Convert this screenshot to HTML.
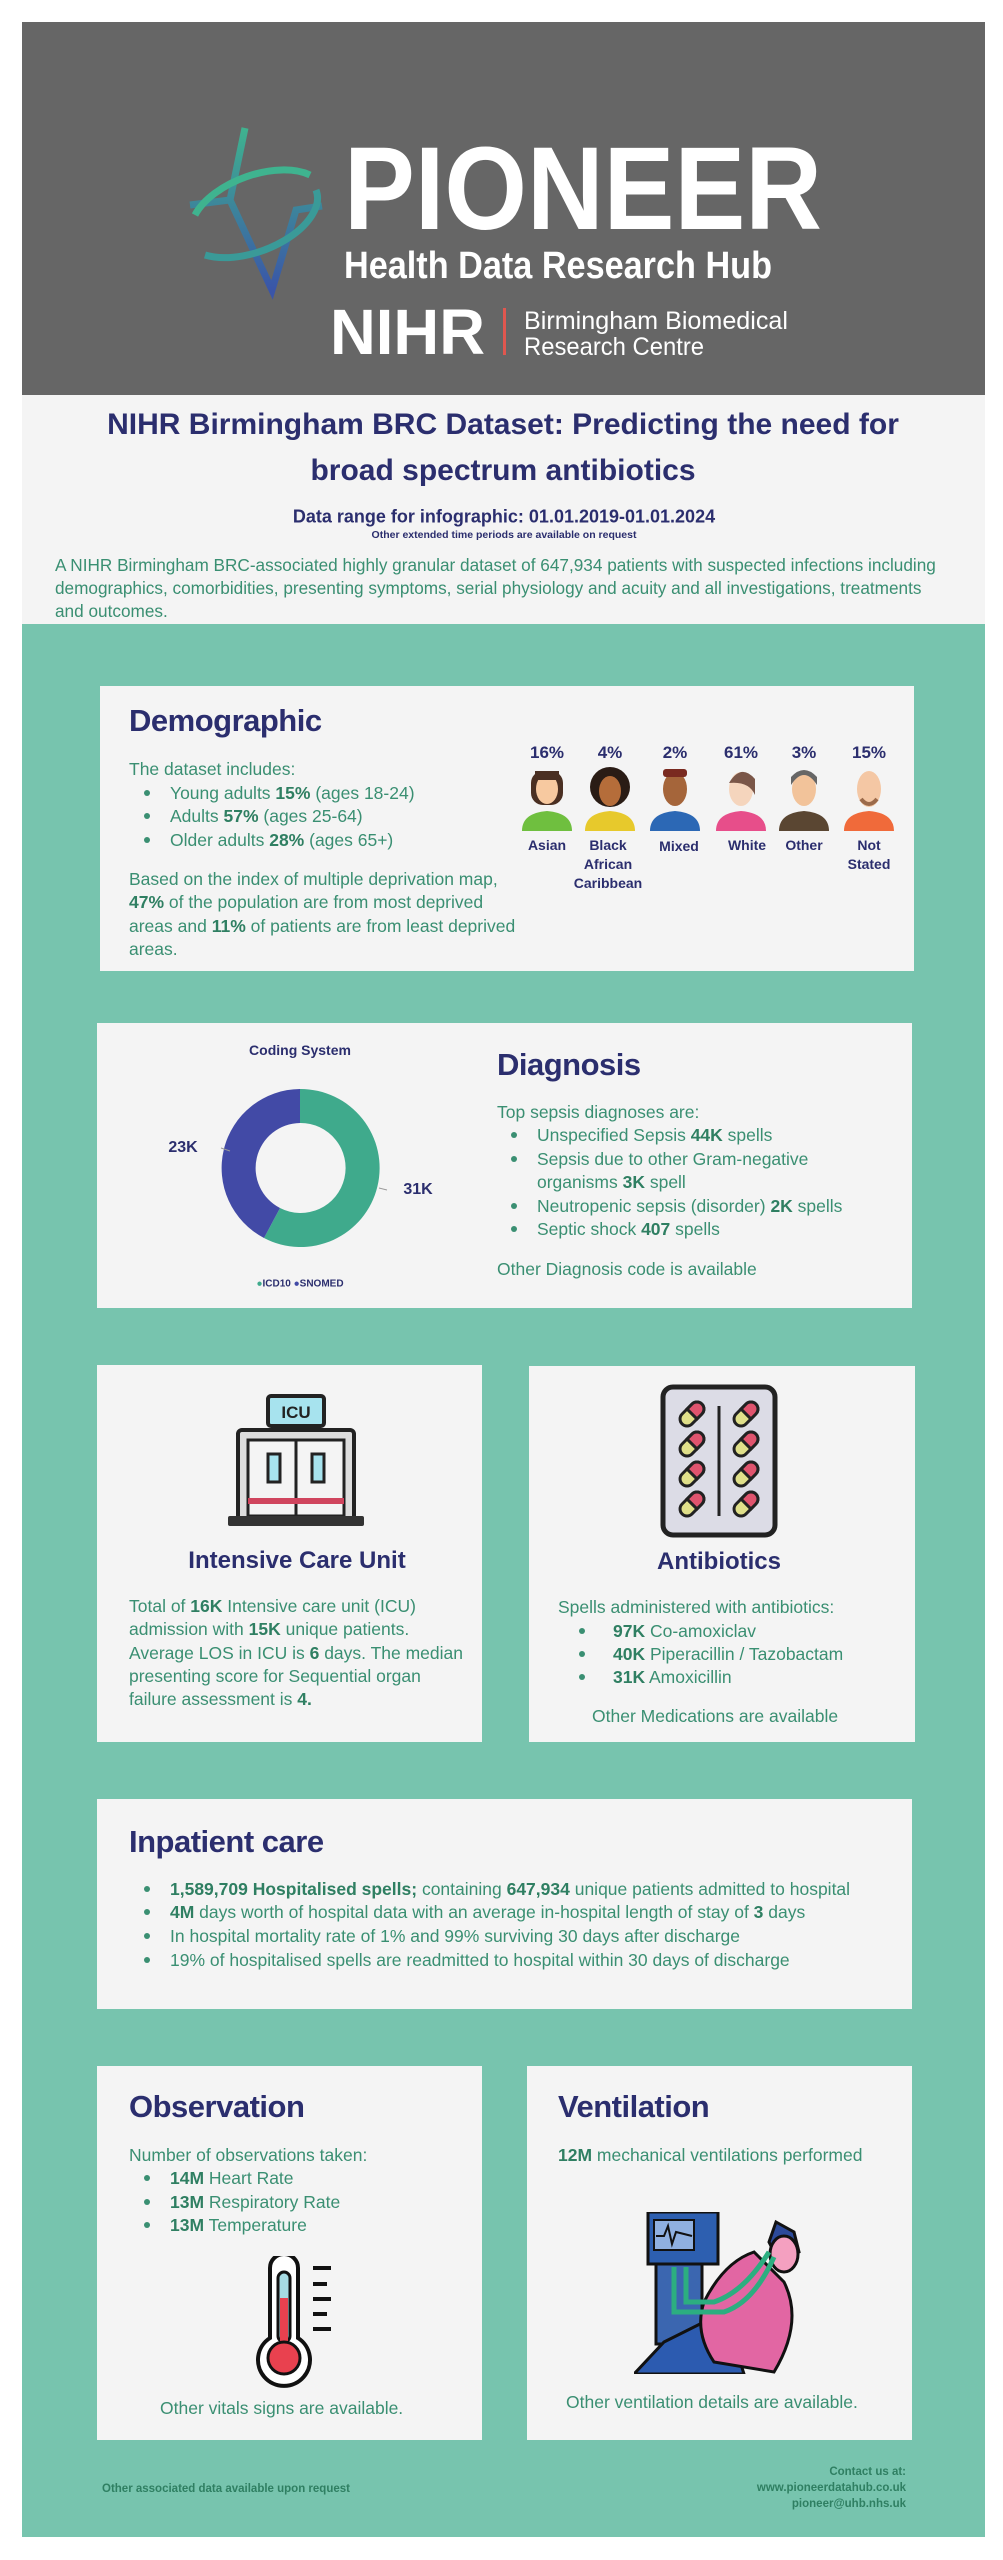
<!DOCTYPE html>
<html><head><meta charset="utf-8"><style>
*{margin:0;padding:0;box-sizing:border-box}
body{width:1003px;height:2560px;background:#fff;position:relative;font-family:"Liberation Sans",sans-serif;overflow:hidden}
.a{position:absolute}
.card{position:absolute;background:#f4f4f4}
.h{position:absolute;color:#2b2e6e;font-weight:bold;font-size:31px;line-height:36px;transform:translateY(-18px);letter-spacing:-0.5px}
.t{position:absolute;color:#3a8f72;font-size:17.5px;line-height:22px;white-space:nowrap;transform:translateY(-11px)}
.t b{color:#2f7f62}
.dot{position:absolute;width:6px;height:6px;border-radius:50%;background:#3a8f72;transform:translate(-3px,-3px)}
.n{position:absolute;color:#2b2e6e;font-weight:bold;text-align:center;white-space:nowrap;transform:translate(-50%,-50%)}
</style></head><body>
<div class="a" style="left:22px;top:22px;width:963px;height:373px;background:#666"></div>
<div class="a" style="left:22px;top:395px;width:963px;height:229px;background:#f4f4f4"></div>
<div class="a" style="left:22px;top:624px;width:963px;height:1913px;background:#77c4ae"></div>

<svg class="a" style="left:0;top:0" width="1003" height="400">
<defs><linearGradient id="g" x1="0" y1="0" x2="0" y2="1"><stop offset="0" stop-color="#3fb38f"/><stop offset="1" stop-color="#3a55a8"/></linearGradient></defs>
<g fill="none" stroke="url(#g)" stroke-width="7">
<path d="M245 128 L230 200 L190 205 M230 200 L272 290 L296 210 L322 206"/>
<path d="M195 215 A70 38 -20 0 1 310 175" stroke="#3fb38f"/>
<path d="M316 190 A70 38 -20 0 1 205 255" stroke="#3a9a98"/>
</g>
<text x="344" y="229" fill="#fff" font-size="118" font-weight="bold" textLength="478" lengthAdjust="spacingAndGlyphs">PIONEER</text>
<text x="344" y="278" fill="#fff" font-size="38" font-weight="bold" textLength="428" lengthAdjust="spacingAndGlyphs">Health Data Research Hub</text>
<text x="330" y="354" fill="#fff" font-size="64" font-weight="bold" textLength="155" lengthAdjust="spacingAndGlyphs">NIHR</text>
<rect x="503" y="308" width="3" height="47" fill="#e0574f"/>
<text x="524" y="329" fill="#fff" font-size="25" textLength="264" lengthAdjust="spacingAndGlyphs">Birmingham Biomedical</text>
<text x="524" y="355" fill="#fff" font-size="25" textLength="180" lengthAdjust="spacingAndGlyphs">Research Centre</text>
</svg>

<div class="n" style="left:503px;top:425px;font-size:30px">NIHR Birmingham BRC Dataset: Predicting the need for</div>
<div class="n" style="left:503px;top:471px;font-size:30px">broad spectrum antibiotics</div>
<div class="n" style="left:504px;top:517px;font-size:18px">Data range for infographic: 01.01.2019-01.01.2024</div>
<div class="n" style="left:504px;top:535px;font-size:10.5px">Other extended time periods are available on request</div>
<div class="t" style="left:55px;top:565px;font-size:17.2px">A NIHR Birmingham BRC-associated highly granular dataset of 647,934 patients with suspected infections including</div>
<div class="t" style="left:55px;top:588px;font-size:17.2px">demographics, comorbidities, presenting symptoms, serial physiology and acuity and all investigations, treatments</div>
<div class="t" style="left:55px;top:611px;font-size:17.2px">and outcomes.</div>

<!-- Demographic -->
<div class="card" style="left:100px;top:686px;width:814px;height:285px"></div>
<div class="h" style="left:129px;top:721px">Demographic</div>
<div class="t" style="left:129px;top:769px">The dataset includes:</div>
<div class="dot" style="left:147px;top:793px"></div><div class="t" style="left:170px;top:793px">Young adults <b>15%</b> (ages 18-24)</div>
<div class="dot" style="left:147px;top:816px"></div><div class="t" style="left:170px;top:816px">Adults <b>57%</b> (ages 25-64)</div>
<div class="dot" style="left:147px;top:840px"></div><div class="t" style="left:170px;top:840px">Older adults <b>28%</b> (ages 65+)</div>
<div class="t" style="left:129px;top:879px">Based on the index of multiple deprivation map,</div>
<div class="t" style="left:129px;top:902px"><b>47%</b> of the population are from most deprived</div>
<div class="t" style="left:129px;top:926px">areas and <b>11%</b> of patients are from least deprived</div>
<div class="t" style="left:129px;top:949px">areas.</div>

<div class="n" style="left:547px;top:753px;font-size:17px">16%</div>
<div class="n" style="left:610px;top:753px;font-size:17px">4%</div>
<div class="n" style="left:675px;top:753px;font-size:17px">2%</div>
<div class="n" style="left:741px;top:753px;font-size:17px">61%</div>
<div class="n" style="left:804px;top:753px;font-size:17px">3%</div>
<div class="n" style="left:869px;top:753px;font-size:17px">15%</div>
<svg class="a" style="left:500px;top:765px" width="420" height="70">
<g transform="translate(47,0)"><rect x="-16" y="6" width="32" height="34" rx="12" fill="#4a2f22"/><path d="M-25 66 Q-25 48 0 46 Q25 48 25 66Z" fill="#6fbf3f"/><ellipse cx="0" cy="24" rx="11" ry="15" fill="#f7c9a0"/><rect x="-12" y="6" width="24" height="9" fill="#4a2f22"/></g>
<g transform="translate(110,0)"><circle cx="0" cy="22" r="20" fill="#2a1c15"/><path d="M-25 66 Q-25 48 0 46 Q25 48 25 66Z" fill="#e7c92c"/><ellipse cx="0" cy="26" rx="11" ry="15" fill="#b56d3a"/></g>
<g transform="translate(175,0)"><path d="M-25 66 Q-25 48 0 46 Q25 48 25 66Z" fill="#2c68b5"/><ellipse cx="0" cy="24" rx="12" ry="17" fill="#a5653a"/><rect x="-12" y="4" width="24" height="8" rx="3" fill="#7a2a20"/></g>
<g transform="translate(241,0)"><path d="M-25 66 Q-25 48 0 46 Q25 48 25 66Z" fill="#e74e8a"/><ellipse cx="0" cy="24" rx="12" ry="17" fill="#f5d5bd"/><path d="M-12 18 Q0 -2 14 14 L14 30 Q8 16 -12 18Z" fill="#7a5648"/></g>
<g transform="translate(304,0)"><path d="M-25 66 Q-25 48 0 46 Q25 48 25 66Z" fill="#5a4632"/><ellipse cx="0" cy="24" rx="12" ry="17" fill="#f2c39a"/><path d="M-13 20 Q0 0 13 20 L13 12 Q0 -2 -13 12Z" fill="#666"/></g>
<g transform="translate(369,0)"><path d="M-25 66 Q-25 48 0 46 Q25 48 25 66Z" fill="#f06a3a"/><ellipse cx="0" cy="24" rx="12" ry="18" fill="#f4c7a4"/><path d="M-8 34 Q0 44 8 34" stroke="#9b6a4a" stroke-width="4" fill="none"/></g>
</svg>
<div class="n" style="left:547px;top:845px;font-size:14px">Asian</div>
<div class="n" style="left:608px;top:845px;font-size:14px">Black</div>
<div class="n" style="left:608px;top:864px;font-size:14px">African</div>
<div class="n" style="left:608px;top:883px;font-size:14px">Caribbean</div>
<div class="n" style="left:679px;top:846px;font-size:14px">Mixed</div>
<div class="n" style="left:747px;top:845px;font-size:14px">White</div>
<div class="n" style="left:804px;top:845px;font-size:14px">Other</div>
<div class="n" style="left:869px;top:845px;font-size:14px">Not</div>
<div class="n" style="left:869px;top:864px;font-size:14px">Stated</div>

<!-- Diagnosis -->
<div class="card" style="left:97px;top:1023px;width:815px;height:285px"></div>
<div class="n" style="left:300px;top:1050px;font-size:14px">Coding System</div>
<svg class="a" style="left:200px;top:1068px" width="260" height="210">
<g transform="translate(100,100)">
<path d="M0 -79 A79 79 0 1 1 -36 70 L-20 40 A45 45 0 1 0 0 -45Z" fill="#3faa8c"/>
<path d="M-36 70 A79 79 0 0 1 0 -79 L0 -45 A45 45 0 0 0 -20 40Z" fill="#424aa6"/>
<path d="M-79 -20 L-70 -17" stroke="#999"/><path d="M79 20 L87 22" stroke="#999"/>
</g></svg>
<div class="n" style="left:183px;top:1148px;font-size:16px">23K</div>
<div class="n" style="left:418px;top:1190px;font-size:16px">31K</div>
<div class="n" style="left:300px;top:1284px;font-size:10px"><span style="color:#3faa8c">●</span>ICD10 <span style="color:#424aa6">●</span>SNOMED</div>
<div class="h" style="left:497px;top:1065px">Diagnosis</div>
<div class="t" style="left:497px;top:1112px">Top sepsis diagnoses are:</div>
<div class="dot" style="left:514px;top:1135px"></div><div class="t" style="left:537px;top:1135px">Unspecified Sepsis <b>44K</b> spells</div>
<div class="dot" style="left:514px;top:1159px"></div><div class="t" style="left:537px;top:1159px">Sepsis due to other Gram-negative</div>
<div class="t" style="left:537px;top:1182px">organisms <b>3K</b> spell</div>
<div class="dot" style="left:514px;top:1206px"></div><div class="t" style="left:537px;top:1206px">Neutropenic sepsis (disorder) <b>2K</b> spells</div>
<div class="dot" style="left:514px;top:1229px"></div><div class="t" style="left:537px;top:1229px">Septic shock <b>407</b> spells</div>
<div class="t" style="left:497px;top:1269px">Other Diagnosis code is available</div>

<!-- ICU -->
<div class="card" style="left:97px;top:1365px;width:385px;height:377px"></div>
<svg class="a" style="left:226px;top:1388px" width="142" height="142">
<rect x="42" y="8" width="56" height="30" rx="3" fill="#a7e3ee" stroke="#222" stroke-width="4"/>
<text x="70" y="30" font-size="17" font-weight="bold" text-anchor="middle" fill="#222">ICU</text>
<rect x="12" y="42" width="116" height="92" rx="4" fill="#ddd" stroke="#222" stroke-width="4"/>
<rect x="22" y="52" width="96" height="76" fill="#f4f4f4" stroke="#222" stroke-width="3"/>
<line x1="70" y1="52" x2="70" y2="128" stroke="#222" stroke-width="3"/>
<rect x="42" y="66" width="12" height="28" fill="#a7e3ee" stroke="#222" stroke-width="3"/>
<rect x="86" y="66" width="12" height="28" fill="#a7e3ee" stroke="#222" stroke-width="3"/>
<rect x="22" y="110" width="96" height="6" fill="#d0455e"/>
<rect x="2" y="128" width="136" height="10" rx="2" fill="#333"/>
</svg>
<div class="n" style="left:297px;top:1561px;font-size:24px">Intensive Care Unit</div>
<div class="t" style="left:129px;top:1606px">Total of <b>16K</b> Intensive care unit (ICU)</div>
<div class="t" style="left:129px;top:1629px">admission with <b>15K</b> unique patients.</div>
<div class="t" style="left:129px;top:1653px">Average LOS in ICU is <b>6</b> days. The median</div>
<div class="t" style="left:129px;top:1676px">presenting score for Sequential organ</div>
<div class="t" style="left:129px;top:1699px">failure assessment is <b>4.</b></div>

<!-- Antibiotics -->
<div class="card" style="left:529px;top:1366px;width:386px;height:376px"></div>
<svg class="a" style="left:660px;top:1384px" width="120" height="154">
<rect x="3" y="3" width="112" height="148" rx="10" fill="#dcdce6" stroke="#222" stroke-width="5"/>
<line x1="59" y1="22" x2="59" y2="132" stroke="#222" stroke-width="3"/>
<g stroke="#222" stroke-width="3">
<g transform="translate(32,30) rotate(-45)"><rect x="-14" y="-7" width="28" height="14" rx="7" fill="#e0e08a"/><path d="M0 -7 H7 A7 7 0 0 1 7 7 H0Z" fill="#e0546e"/></g>
<g transform="translate(32,60) rotate(-45)"><rect x="-14" y="-7" width="28" height="14" rx="7" fill="#e0e08a"/><path d="M0 -7 H7 A7 7 0 0 1 7 7 H0Z" fill="#e0546e"/></g>
<g transform="translate(32,90) rotate(-45)"><rect x="-14" y="-7" width="28" height="14" rx="7" fill="#e0e08a"/><path d="M0 -7 H7 A7 7 0 0 1 7 7 H0Z" fill="#e0546e"/></g>
<g transform="translate(32,120) rotate(-45)"><rect x="-14" y="-7" width="28" height="14" rx="7" fill="#e0e08a"/><path d="M0 -7 H7 A7 7 0 0 1 7 7 H0Z" fill="#e0546e"/></g>
<g transform="translate(86,30) rotate(-45)"><rect x="-14" y="-7" width="28" height="14" rx="7" fill="#e0e08a"/><path d="M0 -7 H7 A7 7 0 0 1 7 7 H0Z" fill="#e0546e"/></g>
<g transform="translate(86,60) rotate(-45)"><rect x="-14" y="-7" width="28" height="14" rx="7" fill="#e0e08a"/><path d="M0 -7 H7 A7 7 0 0 1 7 7 H0Z" fill="#e0546e"/></g>
<g transform="translate(86,90) rotate(-45)"><rect x="-14" y="-7" width="28" height="14" rx="7" fill="#e0e08a"/><path d="M0 -7 H7 A7 7 0 0 1 7 7 H0Z" fill="#e0546e"/></g>
<g transform="translate(86,120) rotate(-45)"><rect x="-14" y="-7" width="28" height="14" rx="7" fill="#e0e08a"/><path d="M0 -7 H7 A7 7 0 0 1 7 7 H0Z" fill="#e0546e"/></g>
</g></svg>
<div class="n" style="left:719px;top:1562px;font-size:24px">Antibiotics</div>
<div class="t" style="left:558px;top:1607px">Spells administered with antibiotics:</div>
<div class="dot" style="left:582px;top:1631px"></div><div class="t" style="left:613px;top:1631px"><b>97K</b> Co-amoxiclav</div>
<div class="dot" style="left:582px;top:1654px"></div><div class="t" style="left:613px;top:1654px"><b>40K</b> Piperacillin / Tazobactam</div>
<div class="dot" style="left:582px;top:1677px"></div><div class="t" style="left:613px;top:1677px"><b>31K</b> Amoxicillin</div>
<div class="t" style="left:592px;top:1716px">Other Medications are available</div>

<!-- Inpatient -->
<div class="card" style="left:97px;top:1799px;width:815px;height:210px"></div>
<div class="h" style="left:129px;top:1842px">Inpatient care</div>
<div class="dot" style="left:147px;top:1889px"></div><div class="t" style="left:170px;top:1889px"><b>1,589,709 Hospitalised spells;</b> containing <b>647,934</b> unique patients admitted to hospital</div>
<div class="dot" style="left:147px;top:1912px"></div><div class="t" style="left:170px;top:1912px"><b>4M</b> days worth of hospital data with an average in-hospital length of stay of <b>3</b> days</div>
<div class="dot" style="left:147px;top:1936px"></div><div class="t" style="left:170px;top:1936px">In hospital mortality rate of 1% and 99% surviving 30 days after discharge</div>
<div class="dot" style="left:147px;top:1960px"></div><div class="t" style="left:170px;top:1960px">19% of hospitalised spells are readmitted to hospital within 30 days of discharge</div>

<!-- Observation -->
<div class="card" style="left:97px;top:2066px;width:385px;height:374px"></div>
<div class="h" style="left:129px;top:2107px">Observation</div>
<div class="t" style="left:129px;top:2155px">Number of observations taken:</div>
<div class="dot" style="left:147px;top:2178px"></div><div class="t" style="left:170px;top:2178px"><b>14M</b> Heart Rate</div>
<div class="dot" style="left:147px;top:2202px"></div><div class="t" style="left:170px;top:2202px"><b>13M</b> Respiratory Rate</div>
<div class="dot" style="left:147px;top:2225px"></div><div class="t" style="left:170px;top:2225px"><b>13M</b> Temperature</div>
<svg class="a" style="left:245px;top:2256px" width="100" height="134">
<path d="M25 12 A14 14 0 0 1 53 12 V82 A26 26 0 1 1 25 82Z" fill="#fff" stroke="#111" stroke-width="4"/>
<rect x="33" y="16" width="12" height="70" rx="6" fill="#a7dbe3" stroke="#111" stroke-width="3"/>
<rect x="35" y="42" width="8" height="50" fill="#e9414f"/>
<circle cx="39" cy="102" r="16" fill="#e9414f" stroke="#111" stroke-width="3"/>
<g stroke="#111" stroke-width="4"><line x1="68" y1="12" x2="86" y2="12"/><line x1="68" y1="28" x2="82" y2="28"/><line x1="68" y1="43" x2="86" y2="43"/><line x1="68" y1="58" x2="82" y2="58"/><line x1="68" y1="73" x2="86" y2="73"/></g>
</svg>
<div class="t" style="left:160px;top:2408px">Other vitals signs are available.</div>

<!-- Ventilation -->
<div class="card" style="left:527px;top:2066px;width:385px;height:374px"></div>
<div class="h" style="left:558px;top:2107px">Ventilation</div>
<div class="t" style="left:558px;top:2155px"><b>12M</b> mechanical ventilations performed</div>
<svg class="a" style="left:634px;top:2212px" width="180" height="162">
<rect x="14" y="0" width="70" height="52" fill="#2d5fb0" stroke="#111" stroke-width="3"/>
<rect x="20" y="8" width="40" height="30" fill="#8fb0e0" stroke="#111" stroke-width="2"/>
<path d="M22 24 L30 24 L34 14 L38 32 L42 20 L58 24" stroke="#111" fill="none" stroke-width="2"/>
<rect x="22" y="52" width="46" height="80" fill="#3b66b0" stroke="#111" stroke-width="3"/>
<path d="M0 162 L30 130 L90 100 L110 162Z" fill="#2c5bb0" stroke="#111" stroke-width="3"/>
<path d="M70 90 Q90 50 120 40 L150 70 Q170 110 140 160 L80 150 Q60 120 70 90Z" fill="#e266a3" stroke="#111" stroke-width="3"/>
<path d="M142 10 L160 20 L165 40 L145 50 L135 30Z" fill="#2c4a9a" stroke="#111" stroke-width="3"/>
<ellipse cx="150" cy="42" rx="14" ry="18" fill="#f4a0c0" stroke="#111" stroke-width="3"/>
<path d="M40 55 L40 100 L90 100 Q120 90 140 45 M52 55 L52 90 L80 90 Q110 80 135 40" stroke="#2cae80" stroke-width="5" fill="none"/>
</svg>
<div class="t" style="left:566px;top:2402px">Other ventilation details are available.</div>

<!-- Footer -->
<div class="t" style="left:102px;top:2489px;font-size:11.5px;font-weight:bold;color:#2f7f62">Other associated data available upon request</div>
<div class="t" style="right:97px;top:2472px;font-size:11.5px;font-weight:bold;color:#2f7f62;text-align:right">Contact us at:</div>
<div class="t" style="right:97px;top:2488px;font-size:11.5px;font-weight:bold;color:#2f7f62;text-align:right">www.pioneerdatahub.co.uk</div>
<div class="t" style="right:97px;top:2504px;font-size:11.5px;font-weight:bold;color:#2f7f62;text-align:right">pioneer@uhb.nhs.uk</div>
</body></html>
